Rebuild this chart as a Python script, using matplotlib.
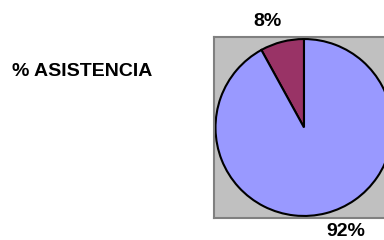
import matplotlib.pyplot as plt

# datos
categorias = ['No asiste', 'Asiste']
valores = [8, 92]
colores = ['#993366', '#9999FF']
etiquetas = ['8%', '92%']

plt.rcParams['font.family'] = ['Liberation Sans', 'DejaVu Sans']

fig = plt.figure(figsize=(3.84, 2.4), dpi=100)
fig.patch.set_facecolor('white')

ax = fig.add_axes([214 / 384, 22 / 240, 180 / 384, 181 / 240])
ax.pie(valores, colors=colores, startangle=90, counterclock=True, frame=True,
       wedgeprops=dict(edgecolor='black', linewidth=1.5))
ax.set_facecolor('#C0C0C0')
for s in ax.spines.values():
    s.set_color('#808080')
    s.set_linewidth(1.5)
ax.set_xlim(-1.017, 1.017)
ax.set_ylim(-1.023, 1.023)
ax.set_aspect('auto')
ax.set_xticks([])
ax.set_yticks([])

fig.text(268 / 384, 1 - 21 / 240, etiquetas[0], ha='center', va='center',
         fontsize=14, fontweight='bold')
fig.text(346 / 384, 1 - 232 / 240, etiquetas[1], ha='center', va='center',
         fontsize=14, fontweight='bold')
fig.text(12 / 384, 1 - 71 / 240, '% ASISTENCIA', ha='left', va='center',
         fontsize=14, fontweight='bold')

fig.savefig('out.png', dpi=100)
